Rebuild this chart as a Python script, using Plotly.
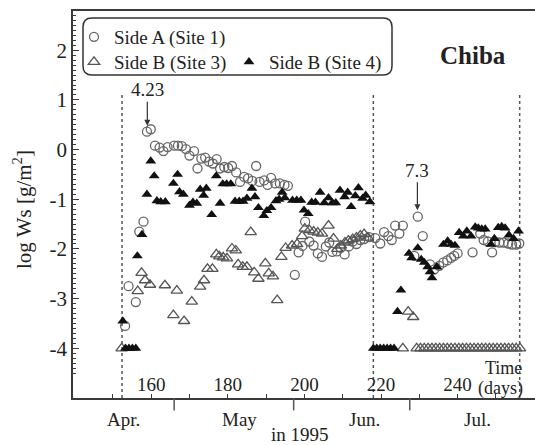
import plotly.graph_objects as go

# ---- data: log Ws [g/m^2] by day ----
side_a_day = [153.2, 154.1, 156.0, 156.9, 158.0, 158.9, 159.9, 161.0, 162.2, 163.2,
              164.3, 166.0, 167.0, 168.0, 169.1, 170.0, 171.2, 172.1, 173.1, 174.1,
              175.1, 176.1, 177.1, 178.0, 179.1, 180.1, 181.1, 182.2, 183.2, 184.3,
              185.3, 186.4, 187.4, 188.3, 189.5, 190.4, 191.3, 192.4, 193.6, 194.8,
              195.7, 197.5, 198.5, 199.5, 200.2, 201.3, 202.4, 203.5, 204.6, 205.6,
              206.5, 207.3, 208.5, 209.5, 210.5, 211.6, 212.6, 213.6, 214.6, 215.6,
              216.9, 218.5, 219.8, 220.8, 221.9, 222.8, 223.7, 224.8, 225.7, 228.7,
              229.6, 230.9, 232.8, 233.9, 235.2, 236.3, 237.3, 238.3, 239.1, 240.0,
              243.9, 245.9, 246.8, 247.9, 249.0, 249.8, 250.9, 252.0, 253.2, 254.2,
              255.3, 256.1]
side_a_logws = [-3.55, -2.75, -3.07, -1.65, -1.45, 0.36, 0.41, 0.08, 0.04, -0.03,
                0.05, 0.08, 0.08, 0.07, 0.01, -0.12, -0.03, -0.38, -0.18, -0.16,
                -0.24, -0.28, -0.19, -0.38, -0.35, -0.37, -0.33, -0.46, -0.65, -0.55,
                -0.58, -0.63, -0.33, -0.65, -0.62, -0.71, -0.57, -0.68, -0.68, -0.71,
                -0.73, -2.52, -2.07, -1.94, -1.45, -1.85, -1.93, -2.09, -2.16, -1.95,
                -1.87, -2.06, -2.05, -1.98, -2.11, -1.95, -1.85, -1.90, -1.82, -1.80,
                -1.76, -1.78, -1.89, -1.66, -1.74, -1.82, -1.53, -1.69, -1.53, -2.14,
                -1.35, -1.74, -2.31, -2.41, -2.34, -2.27, -2.23, -2.18, -2.14, -2.09,
                -2.07, -1.69, -1.82, -1.85, -2.07, -1.86, -1.87, -1.87, -1.89, -1.91,
                -1.91, -1.89]

site3_day = [152.3, 156.5, 157.5, 158.4, 159.7, 163.6, 165.8, 166.7, 168.6, 170.6,
             172.8, 173.8, 174.7, 176.0, 177.0, 177.8, 178.8, 179.8, 181.1, 182.1,
             182.7, 183.9, 185.0, 186.0, 186.9, 188.0, 189.8, 190.7, 191.8, 192.9,
             194.0, 195.1, 196.8, 198.1, 199.4, 200.1, 201.3, 202.4, 203.5, 204.6,
             206.3, 207.6, 208.6, 209.5, 210.6, 211.5, 212.6, 213.6, 214.6, 215.6,
             216.6, 225.7, 227.1, 228.4,
             229.3, 230.3, 231.3, 232.3, 233.3, 234.3, 235.3, 236.3, 237.3, 238.3,
             239.3, 240.3, 241.3, 242.3, 243.3, 244.3, 245.3, 246.3, 247.3, 248.3,
             249.3, 250.3, 251.3, 252.3, 253.3, 254.3, 255.3, 256.3]
site3_logws = [-4.0, -2.85, -2.48, -2.63, -2.72, -2.73, -3.33, -2.84, -3.45, -3.06,
               -2.76, -2.63, -2.40, -2.40, -2.11, -2.15, -2.17, -2.19, -1.99, -2.03,
               -2.31, -2.36, -2.36, -1.66, -2.47, -2.60, -2.29, -2.49, -2.55, -3.03,
               -2.16, -1.98, -1.93, -1.90, -1.74, -1.59, -1.62, -1.65, -1.67, -1.69,
               -1.53, -1.79, -2.00, -1.93, -1.87, -1.83, -1.80, -1.77, -1.73, -1.70,
               -1.77, -4.0, -3.26, -3.37,
               -4.0, -4.0, -4.0, -4.0, -4.0, -4.0, -4.0, -4.0, -4.0, -4.0,
               -4.0, -4.0, -4.0, -4.0, -4.0, -4.0, -4.0, -4.0, -4.0, -4.0,
               -4.0, -4.0, -4.0, -4.0, -4.0, -4.0, -4.0, -4.0]

site4_day = [152.6, 153.3, 154.2, 155.1, 156.0, 156.4, 157.6, 158.9, 159.9, 160.8,
             161.5, 162.5, 163.7, 165.8, 166.9, 167.4, 168.4, 170.0, 170.9, 171.9,
             172.8, 173.7, 174.4, 175.8, 177.0, 178.0, 178.7, 179.7, 180.8, 181.9,
             183.0, 184.0, 185.0, 186.3, 187.1, 188.0, 189.4, 190.2, 191.3, 192.6,
             193.4, 194.2, 194.9, 196.9, 198.0, 199.1, 199.9, 201.0, 201.9, 202.9,
             204.1, 205.2, 206.3, 207.3, 208.2, 209.3, 210.5, 211.3, 212.2, 213.3,
             214.1, 215.2, 216.0, 217.1,
             218.0, 218.9, 219.8, 220.7, 221.6, 222.5, 223.4, 224.3, 225.2,
             227.3, 228.0, 229.6, 230.5, 231.3, 232.2, 232.8, 233.3, 234.6, 236.3,
             237.4, 238.3, 239.3, 240.4, 241.5, 242.4, 243.5, 244.6, 245.4, 246.3,
             247.2, 248.7, 249.6, 250.6, 251.5, 252.4, 253.4, 254.6, 255.9]
site4_logws = [-3.45, -4.0, -4.0, -4.0, -4.0, -2.14, -1.71, -0.90, -0.23, -0.53,
               -1.03, -1.05, -1.05, -0.68, -0.50, -0.85, -0.90, -1.12, -1.06, -1.08,
               -0.80, -0.92, -0.78, -1.31, -0.53, -1.08, -0.69, -0.69, -0.69, -1.04,
               -1.04, -1.04, -0.98, -0.78, -0.95, -1.17, -1.33, -1.23, -1.17, -1.03,
               -1.00, -0.86, -0.97, -1.02, -1.02, -1.02, -1.22, -1.29, -1.06, -1.06,
               -0.86, -1.07, -0.97, -1.07, -1.07, -0.82, -0.95, -0.86, -1.15, -0.93,
               -0.77, -0.98, -0.92, -1.05,
               -4.0, -4.0, -4.0, -4.0, -4.0, -4.0, -4.0, -3.26, -2.83,
               -2.09, -2.18, -1.98, -2.21, -2.27, -2.36, -2.46, -2.58, -2.36, -1.91,
               -1.84, -1.91, -1.93, -1.67, -1.74, -1.64, -1.74, -1.56, -1.58, -1.60,
               -1.60, -1.91, -1.79, -1.57, -1.55, -1.58, -1.72, -1.79, -1.64]

# axis ticks
x_tick_days = [150, 160, 170, 180, 190, 200, 210, 220, 230, 240, 250]
x_tick_labels = ["", "160", "", "180", "", "200", "", "220", "", "240", ""]
y_tick_vals = [-5, -4, -3, -2, -1, 0, 1, 2]
y_tick_labels = ["-5", "-4", "-3", "-2", "-1", "0", "1", "2"]

# calendar months under the day axis
month_names = ["Apr.", "May", "Jun.", "Jul."]
month_label_days = [152.8, 183.0, 215.8, 245.3]
month_boundary_days = [166.0, 197.2, 227.5]

# dotted markers for sampling periods
period_days = [152.4, 218.0, 256.2]

# annotated events: (day, arrow tip value, text)
event_days = [159.0, 229.5]
event_tip_logws = [0.48, -1.22]
event_texts = ["4.23", "7.3"]
event_offsets = [-36, -40]

SERIF = "Liberation Serif"
TEXT_COLOR = "#222222"
AXIS_COLOR = "#3a3a3a"

fig = go.Figure()
fig.add_trace(go.Scatter(
    x=side_a_day, y=side_a_logws, mode="markers", name="Side A (Site 1)",
    marker=dict(symbol="circle-open", size=9, color="#666666", line=dict(width=1.3)),
    legend="legend",
))
fig.add_trace(go.Scatter(
    x=site3_day, y=site3_logws, mode="markers", name="Side B (Site 3)",
    marker=dict(symbol="triangle-up-open", size=10, color="#555555", line=dict(width=1.3)),
    legend="legend2",
))
fig.add_trace(go.Scatter(
    x=site4_day, y=site4_logws, mode="markers", name="Side B (Site 4)",
    marker=dict(symbol="triangle-up", size=9.5, color="#111111", line=dict(width=0)),
    legend="legend2",
))

W, H = 535, 445
M = dict(l=73, r=0, t=11, b=47)
PW = W - M["l"] - M["r"]
PH = H - M["t"] - M["b"]


def px_x(xp):
    return (xp - M["l"]) / PW


def px_y(yp):
    return (H - M["b"] - yp) / PH


def text_font(size=19):
    return dict(family=SERIF, size=size, color=TEXT_COLOR)


# rounded frame around the legend entries
x0, x1, y0, y1, r = 83, 392, 18, 75, 9
rx, ry = r / PW, r / PH
X0, X1, Y0, Y1 = px_x(x0), px_x(x1), px_y(y1), px_y(y0)
frame_path = (
    f"M {X0 + rx},{Y1} L {X1 - rx},{Y1} Q {X1},{Y1} {X1},{Y1 - ry} "
    f"L {X1},{Y0 + ry} Q {X1},{Y0} {X1 - rx},{Y0} "
    f"L {X0 + rx},{Y0} Q {X0},{Y0} {X0},{Y0 + ry} "
    f"L {X0},{Y1 - ry} Q {X0},{Y1} {X0 + rx},{Y1} Z"
)

shapes = [dict(type="path", path=frame_path, xref="paper", yref="paper",
               line=dict(color="#333333", width=1.5), fillcolor="rgba(0,0,0,0)")]
for d in period_days:
    shapes.append(dict(type="line", xref="x", yref="y", x0=d, x1=d, y0=-5.0, y1=1.15,
                       line=dict(color="#555555", width=1.5, dash="dot"), layer="below"))
for d in month_boundary_days:
    shapes.append(dict(type="line", xref="x", yref="paper", x0=d, x1=d, y0=0, y1=-0.032,
                       line=dict(color="#555555", width=1.5)))

annotations = []
for d, v, t, off in zip(event_days, event_tip_logws, event_texts, event_offsets):
    annotations.append(dict(x=d, y=v, xref="x", yref="y", text=t, showarrow=True,
                            ax=0, ay=off, arrowhead=2, arrowsize=1, arrowwidth=1.2,
                            arrowcolor="#333333", font=text_font()))
for name, d in zip(month_names, month_label_days):
    annotations.append(dict(x=d, y=px_y(419), xref="x", yref="paper", text=name,
                            showarrow=False, xanchor="center", yanchor="middle",
                            font=text_font()))
annotations += [
    dict(x=198.9, y=px_y(434), xref="x", yref="paper", text="in 1995", showarrow=False,
         xanchor="center", yanchor="middle", font=text_font()),
    dict(x=px_x(525), y=px_y(388), xref="paper", yref="paper", text="(days)",
         showarrow=False, xanchor="right", yanchor="middle", font=text_font(18)),
    dict(x=px_x(524), y=px_y(368), xref="paper", yref="paper", text="Time",
         showarrow=False, xanchor="right", yanchor="middle", font=text_font(18)),
    dict(x=px_x(473), y=px_y(55), xref="paper", yref="paper", text="<b>Chiba</b>",
         showarrow=False, xanchor="center", yanchor="middle", font=text_font(25)),
    dict(x=0, y=px_y(210), xref="paper", yref="paper", text="log Ws [g/m<sup>2</sup>]",
         showarrow=False, textangle=-90, xshift=-51, xanchor="center", yanchor="middle",
         font=text_font(21)),
]

fig.update_layout(
    width=W, height=H, margin=M,
    plot_bgcolor="white", paper_bgcolor="white",
    font=text_font(),
    showlegend=True,
    legend=dict(x=px_x(74), y=px_y(37), xanchor="left", yanchor="middle",
                bgcolor="rgba(0,0,0,0)", borderwidth=0, font=text_font(),
                orientation="h"),
    legend2=dict(x=px_x(74), y=px_y(62), xanchor="left", yanchor="middle",
                 bgcolor="rgba(0,0,0,0)", borderwidth=0, font=text_font(),
                 orientation="h", entrywidth=110, entrywidthmode="pixels"),
    shapes=shapes,
    annotations=annotations,
    xaxis=dict(range=[139.6, 260.2], showline=True, mirror=True, linecolor=AXIS_COLOR,
               linewidth=1.5, showgrid=False, zeroline=False, ticks="inside",
               ticklen=4, tickwidth=1.2, tickcolor=AXIS_COLOR, tickmode="array",
               tickvals=x_tick_days, ticktext=x_tick_labels, ticklabelposition="inside",
               tickfont=text_font()),
    yaxis=dict(range=[-5, 2.79], showline=True, linecolor=AXIS_COLOR, linewidth=1.5,
               showgrid=False, zeroline=False, ticks="inside", ticklen=6, tickwidth=1.2,
               tickcolor=AXIS_COLOR, tickmode="array", tickvals=y_tick_vals,
               ticktext=y_tick_labels, tickfont=text_font(21),
               minor=dict(ticks="inside", ticklen=3, tickwidth=1, tickcolor=AXIS_COLOR,
                          dtick=0.1, tick0=0)),
)

fig.write_html("out.html")
